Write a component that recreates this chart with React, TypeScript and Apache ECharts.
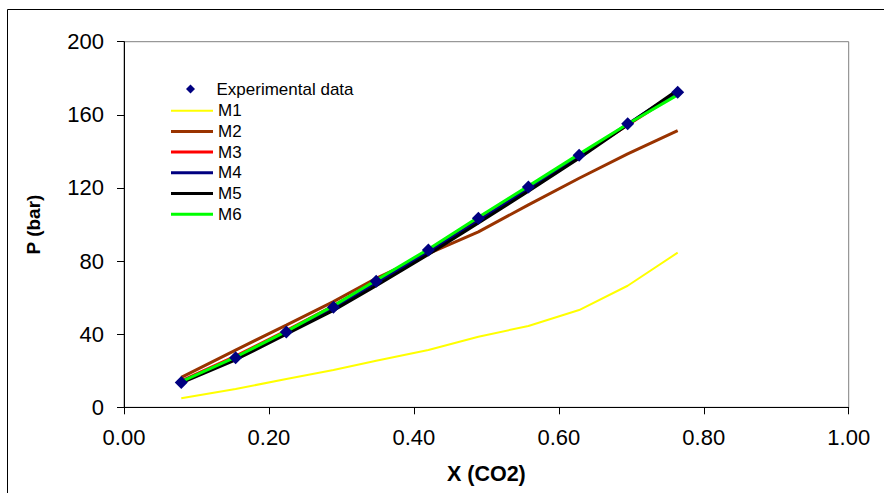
import React, { useEffect, useRef } from "react";
import * as echarts from "echarts";

const xCO2 = [0.079, 0.154, 0.224, 0.289, 0.348, 0.42, 0.489, 0.558, 0.628, 0.695, 0.764];
const pExp = [13.6, 27.1, 41.2, 54.7, 68.9, 86.0, 103.4, 120.5, 137.9, 155.1, 172.3];
const m1 = [4.9, 10.0, 15.5, 20.4, 25.5, 31.3, 38.6, 44.5, 53.2, 66.5, 84.6];
const m2 = [16.4, 31.3, 45.0, 57.8, 70.6, 84.0, 96.0, 110.7, 125.3, 138.6, 151.3];
const m3 = [14.5, 28.0, 42.0, 55.5, 69.0, 85.5, 102.5, 119.5, 137.0, 154.5, 172.0];
const m4 = [14.0, 27.0, 41.0, 54.5, 68.0, 85.0, 102.0, 119.5, 137.0, 155.0, 172.8];
const m5 = [13.3, 26.0, 40.0, 53.0, 66.5, 83.6, 100.8, 118.2, 136.2, 154.6, 173.6];
const m6 = [14.0, 27.5, 41.5, 55.5, 69.5, 86.5, 104.0, 121.0, 138.5, 155.0, 170.9];

const modelNames = ["M1", "M2", "M3", "M4", "M5", "M6"];
const modelValues = [m1, m2, m3, m4, m5, m6];
const modelColors = ["#FFFF00", "#993300", "#FF0000", "#000080", "#000000", "#00FF00"];
const modelWidths = [2, 3, 3, 3, 3, 3];
const expName = "Experimental data";

const FONT = "'Liberation Sans', Arial, sans-serif";

export default function App() {
  const ref = useRef<HTMLDivElement>(null);
  useEffect(() => {
    if (!ref.current) return;
    const chart = echarts.init(ref.current, undefined, { renderer: "svg" });
    const pair = (ys: number[]) => xCO2.map((x, i) => [x, ys[i]]);
    const lineSeries = modelNames.map((name, k) => ({
      name,
      type: "line",
      data: pair(modelValues[k]),
      showSymbol: false,
      symbol: "none",
      lineStyle: { color: modelColors[k], width: modelWidths[k] },
      itemStyle: { color: modelColors[k] },
      z: 2 + k,
    }));
    const lineIcon = (w: number) => `path://M0,0L42,0L42,${w}L0,${w}Z`;
    chart.setOption({
      animation: false,
      backgroundColor: "#ffffff",
      textStyle: { fontFamily: FONT },
      grid: {
        left: 124,
        top: 41.7,
        right: 35.3,
        bottom: 85.7,
        show: true,
        borderColor: "#808080",
        borderWidth: 1,
        backgroundColor: "transparent",
      },
      graphic: [
        {
          type: "rect",
          shape: { x: 7.5, y: 9.5, width: 900, height: 500 },
          style: { fill: "none", stroke: "#000000", lineWidth: 1 },
          silent: true,
          z: -10,
        },
      ],
      legend: [
        {
          data: [{ name: expName, icon: "path://M0,-1L1,0L0,1L-1,0Z" }],
          left: 186,
          top: 80.5,
          padding: 0,
          itemWidth: 42,
          itemHeight: 9,
          selectedMode: false,
          itemStyle: { opacity: 1 },
          textStyle: { fontSize: 17, color: "#000", fontFamily: FONT },
        },
        {
          data: modelNames.map((n, k) => ({ name: n, icon: lineIcon(modelWidths[k]) })),
          orient: "vertical",
          left: 171,
          top: 102.2,
          padding: 0,
          itemWidth: 42,
          itemHeight: 14,
          itemGap: 3.7,
          selectedMode: false,
          textStyle: { fontSize: 17, color: "#000", fontFamily: FONT },
        },
      ],
      xAxis: {
        type: "value",
        min: 0,
        max: 1,
        interval: 0.2,
        name: "X (CO2)",
        nameLocation: "middle",
        nameGap: 56,
        nameTextStyle: { fontSize: 21.5, fontWeight: "bold", color: "#000", fontFamily: FONT },
        axisLine: { show: true, lineStyle: { color: "#000", width: 1 } },
        axisTick: { show: true, inside: false, length: 7, lineStyle: { color: "#000" } },
        axisLabel: {
          fontSize: 22,
          color: "#000",
          margin: 19,
          fontFamily: FONT,
          formatter: (v: number) => v.toFixed(2),
        },
        splitLine: { show: false },
      },
      yAxis: {
        type: "value",
        min: 0,
        max: 200,
        interval: 40,
        name: "P (bar)",
        nameLocation: "middle",
        nameGap: 81,
        nameTextStyle: { fontSize: 19, fontWeight: "bold", color: "#000", fontFamily: FONT },
        axisLine: { show: true, lineStyle: { color: "#000", width: 1 } },
        axisTick: { show: true, inside: false, length: 7, lineStyle: { color: "#000" } },
        axisLabel: { fontSize: 22, color: "#000", margin: 20, fontFamily: FONT },
        splitLine: { show: false },
      },
      series: [
        ...lineSeries,
        {
          name: expName,
          type: "scatter",
          data: pair(pExp),
          symbol: "diamond",
          symbolSize: 13,
          itemStyle: { color: "#000080", opacity: 1 },
          z: 20,
        },
      ],
    });
    return () => chart.dispose();
  }, []);
  return (
    <div
      ref={ref}
      style={{ position: "fixed", left: 0, top: 0, width: 884, height: 493 }}
    />
  );
}
